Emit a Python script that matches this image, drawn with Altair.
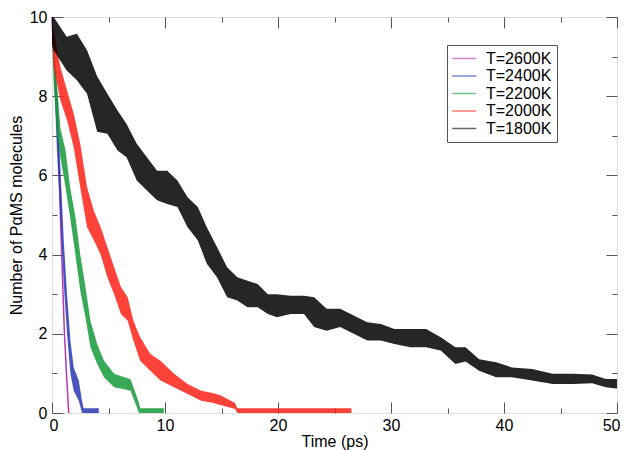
import altair as alt
import pandas as pd

# ---- data (time in ps, envelope of the noisy curves) ----
series_names = ["T=2600K", "T=2400K", "T=2200K", "T=2000K", "T=1800K"]
series_colors = ["#b03cb0", "#2a36b4", "#159a3a", "#ff2218", "#000000"]

t_1800 = [0, 0.15, 1.3, 2.2, 3.1, 4.0, 4.9, 5.8, 6.6, 7.5, 8.4, 9.3, 10.2, 11.1, 12.0, 12.9,
          13.7, 14.6, 15.5, 16.4, 17.3, 18.2, 19.1, 19.9, 21.1, 22.3, 23.2, 24.3, 25.5, 26.7,
          27.9, 29.1, 30.3, 31.7, 33.1, 34.4, 35.7, 36.6, 37.8, 39.3, 40.7, 42.5, 44.3, 46.1,
          47.8, 49.0, 50.0]
hi_1800 = [10, 10, 9.5, 9.58, 9.16, 8.5, 8.06, 7.64, 7.3, 6.8, 6.46, 6.12, 6.12, 5.87, 5.45, 5.2,
           4.69, 4.19, 3.68, 3.43, 3.34, 3.26, 3.0, 3.0, 2.96, 2.96, 2.92, 2.63, 2.63, 2.46,
           2.29, 2.25, 2.12, 2.12, 2.12, 1.91, 1.66, 1.66, 1.36, 1.28, 1.15, 1.11, 0.99, 0.99,
           0.97, 0.86, 0.86]
lo_1800 = [9.3, 9.16, 8.65, 8.4, 8.06, 7.1, 7.05, 6.63, 6.46, 5.87, 5.62, 5.37, 5.28, 5.2, 4.69, 4.36,
           3.77, 3.43, 2.92, 2.84, 2.67, 2.67, 2.5, 2.42, 2.5, 2.5, 2.17, 2.08, 2.17, 2.0,
           1.83, 1.83, 1.74, 1.66, 1.66, 1.58, 1.24, 1.3, 1.07, 0.9, 0.9, 0.82, 0.73, 0.73,
           0.75, 0.65, 0.62]

t_2000 = [0, 0.15, 0.74, 1.33, 1.92, 2.5, 3.1, 3.7, 4.3, 4.9, 5.5, 6.1, 6.7, 7.2, 7.8, 8.7, 9.6,
          10.8, 12.0, 13.2, 14.3, 14.9, 16.2, 16.4, 26.5]
hi_2000 = [10, 9.66, 8.74, 8.15, 7.56, 6.8, 5.7, 5.11, 4.7, 4.19, 3.68, 3.18, 2.92, 2.33, 1.91, 1.49, 1.32,
           0.99, 0.73, 0.56, 0.5, 0.45, 0.25, 0.12, 0.12]
lo_2000 = [9.6, 8.74, 7.9, 7.39, 6.71, 5.7, 4.69, 4.36, 4.0, 3.43, 3.0, 2.5, 2.33, 1.83, 1.32, 1.07, 0.82,
           0.65, 0.48, 0.31, 0.25, 0.2, 0.1, 0.0, 0.0]

t_2200 = [0, 0.15, 0.44, 0.74, 1.2, 1.6, 2.07, 2.5, 2.96, 3.4, 4.0, 4.6, 5.5, 6.4, 6.95, 7.4, 7.7, 7.8, 9.9]
hi_2200 = [10, 9.4, 8.3, 7.2, 6.63, 5.7, 4.95, 4.0, 3.18, 2.33, 1.74, 1.32, 0.99, 0.9, 0.85, 0.5, 0.25, 0.12, 0.12]
lo_2200 = [9.6, 8.3, 7.05, 6.46, 5.7, 4.95, 4.0, 3.09, 2.42, 1.66, 1.24, 0.9, 0.65, 0.6, 0.56, 0.23, 0.0, 0.0, 0.0]

t_2400 = [0, 0.15, 0.44, 0.74, 1.04, 1.33, 1.63, 1.92, 2.37, 2.66, 2.8, 4.14]
hi_2400 = [10, 9.6, 7.9, 6.2, 4.36, 3.0, 1.83, 1.15, 0.82, 0.3, 0.12, 0.12]
lo_2400 = [9.7, 8.74, 6.63, 4.95, 3.26, 2.0, 0.99, 0.56, 0.31, 0.0, 0.0, 0.0]

t_2600 = [0, 0.1, 0.44, 0.8, 1.1, 1.3, 1.48]
y_2600 = [10, 9.3, 7.9, 4.5, 2.0, 0.9, 0.0]

x_major = [0, 10, 20, 30, 40, 50]
x_minor = [5, 15, 25, 35, 45]
y_major = [0, 2, 4, 6, 8, 10]
y_minor = [1, 3, 5, 7, 9]

W, H = 565, 396
FONT = "Liberation Sans"
FS = 16


def band_df(name, t, lo, hi):
    return pd.DataFrame({"t": t, "lo": lo, "hi": hi, "series": name})


df1800 = band_df("T=1800K", t_1800, lo_1800, hi_1800)
df2000 = band_df("T=2000K", t_2000, lo_2000, hi_2000)
df2200 = band_df("T=2200K", t_2200, lo_2200, hi_2200)
df2400 = band_df("T=2400K", t_2400, lo_2400, hi_2400)
df2600 = pd.DataFrame({"t": t_2600, "y": y_2600, "series": "T=2600K"})

xscale = alt.Scale(domain=[0, 50], nice=False, zero=False)
yscale = alt.Scale(domain=[0, 10], nice=False, zero=False)
cscale = alt.Scale(domain=series_names, range=series_colors)

TICKC = "#555555"


def tick_axis(orient, offset, values, size):
    return alt.Axis(orient=orient, offset=offset, values=values, tickSize=size,
                    labels=False, domain=False, grid=False, title=None,
                    tickColor=TICKC, tickWidth=1)


def band(df, xaxis, yaxis):
    return alt.Chart(df).mark_area(opacity=0.85, interpolate="linear").encode(
        x=alt.X("t:Q", scale=xscale, axis=xaxis),
        y=alt.Y("lo:Q", scale=yscale, axis=yaxis),
        y2="hi:Q",
        color=alt.Color("series:N", scale=cscale, legend=None),
    )


x_label_axis = alt.Axis(orient="bottom", values=x_major, ticks=False, domain=False, grid=False,
                        labelFontSize=FS, labelFont=FONT, labelColor="black", labelPadding=4,
                        labelFlush=True, labelFlushOffset=3,
                        title="Time (ps)", titleFontSize=FS, titleFont=FONT,
                        titleFontWeight="normal", titleColor="black", titlePadding=0)
y_label_axis = alt.Axis(orient="left", values=y_major, ticks=False, domain=False, grid=False,
                        labelFontSize=FS, labelFont=FONT, labelColor="black", labelPadding=5,
                        labelFlush=False,
                        title="Number of P\u03b1MS molecules", titleFontSize=FS, titleFont=FONT,
                        titleFontWeight="normal", titleColor="black", titlePadding=5)

l_purple = alt.Chart(df2600).mark_line(strokeWidth=1.5).encode(
    x=alt.X("t:Q", scale=xscale, axis=tick_axis("bottom", -H, x_minor, 5)),
    y=alt.Y("y:Q", scale=yscale, axis=tick_axis("left", -W, y_minor, 5)),
    color=alt.Color("series:N", scale=cscale, legend=alt.Legend(
        title=None, orient="none", legendX=395, legendY=28,
        symbolType="M-1.1,0L2.1,0", symbolSize=225, symbolStrokeWidth=1.5, symbolOpacity=0.6,
        labelFontSize=FS, labelFont=FONT, labelColor="black", labelOffset=17,
        strokeColor="#555555", padding=5, rowPadding=0.5, fillColor="white")),
)

l_blue = band(df2400, tick_axis("bottom", -H, x_major, 11), tick_axis("left", -W, y_major, 11))
l_green = band(df2200, tick_axis("top", -H, x_minor, 5), tick_axis("right", -W, y_minor, 5))
l_red = band(df2000, tick_axis("top", -H, x_major, 11), tick_axis("right", -W, y_major, 11))
l_black = band(df1800, x_label_axis, y_label_axis)

chart = alt.layer(l_purple, l_blue, l_green, l_red, l_black).resolve_axis(
    x="independent", y="independent"
).resolve_scale(x="shared", y="shared", color="shared").properties(
    width=W, height=H,
    autosize=alt.AutoSizeParams(type="none"),
    padding={"left": 44, "top": 9, "right": 3, "bottom": 40},
).configure_view(stroke="#666666", strokeWidth=1.5).configure(background="white")

chart.save("out.html", embed_options={"renderer": "svg", "actions": False})
